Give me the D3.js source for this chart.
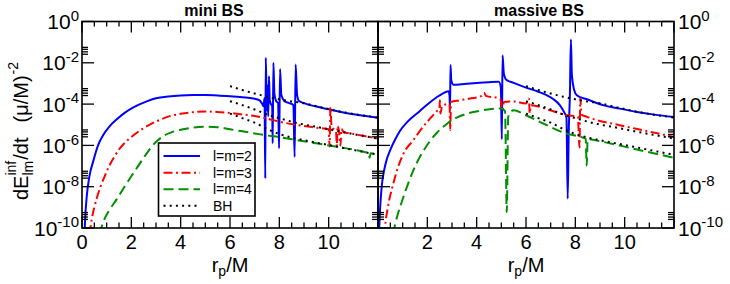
<!DOCTYPE html>
<html><head><meta charset="utf-8">
<script src="https://cdn.jsdelivr.net/npm/d3@7"></script>
<style>
body{margin:0;background:#fff}
svg{display:block}
text{font-family:"Liberation Sans",Arial,Helvetica,sans-serif;fill:#000}
</style>
</head><body>
<svg id="chart" width="730" height="284"></svg>
<script>
// ---------------- data (r_p/M , log10 dE/dt) ----------------
const panelTitles = ["mini BS", "massive BS"];
const seriesNames = ["l=m=2", "l=m=3", "l=m=4", "BH"];
const xMajorTicks = [0, 2, 4, 6, 8, 10, 12];
const xMinorTicks = [0.5, 1, 1.5, 2.5, 3, 3.5, 4.5, 5, 5.5, 6.5, 7, 7.5, 8.5, 9, 9.5, 10.5, 11, 11.5];
const xLabelsLeft = [0, 2, 4, 6, 8, 10];
const xLabelsRight = [2, 4, 6, 8, 10];
const yMajorExponents = [0, -2, -4, -6, -8, -10];
const yMinorFactors = [2.6, 3.4, 4.5, 5.6];

const mini_l2 = [[0.1,-10.3],[0.13,-9.5],[0.19,-8.5],[0.3,-7.5],[0.46,-6.75],[0.65,-6.0],[0.86,-5.5],[1.1,-5.1],[1.4,-4.75],[1.7,-4.45],[2.1,-4.15],[2.6,-3.88],[3.0,-3.72],[3.5,-3.63],[4.0,-3.58],[4.5,-3.56],[5.0,-3.56],[5.5,-3.58],[6.0,-3.62],[6.5,-3.67],[6.95,-3.73],[7.2,-3.82],[7.3,-3.98],[7.36,-4.1],[7.4,-3.7],[7.43,-7.6],[7.45,-1.75],[7.48,-3.5],[7.5,-4.3],[7.52,-3.1],[7.55,-4.6],[7.58,-2.65],[7.61,-3.8],[7.66,-4.0],[7.71,-4.1],[7.73,-5.9],[7.76,-2.0],[7.8,-3.5],[7.87,-3.85],[7.95,-3.95],[7.99,-6.14],[8.03,-2.3],[8.08,-3.55],[8.2,-3.85],[8.4,-3.95],[8.57,-4.05],[8.62,-6.56],[8.66,-2.08],[8.72,-3.55],[8.8,-3.85],[9.0,-3.95],[9.5,-4.12],[10.0,-4.25],[10.5,-4.38],[11.0,-4.49],[11.5,-4.58],[12.0,-4.66]];
const mini_l3 = [[0.31,-10.3],[0.4,-9.55],[0.5,-9.0],[0.6,-8.55],[0.75,-8.0],[0.9,-7.55],[1.1,-7.0],[1.3,-6.57],[1.55,-6.12],[1.8,-5.8],[2.1,-5.5],[2.45,-5.2],[2.8,-4.96],[3.16,-4.76],[3.6,-4.57],[4.0,-4.47],[4.5,-4.39],[5.0,-4.36],[5.5,-4.38],[6.0,-4.43],[6.5,-4.5],[7.0,-4.58],[7.4,-4.67],[8.0,-4.85],[8.5,-4.97],[9.0,-5.06],[9.5,-5.14],[10.0,-5.22],[10.04,-6.05],[10.07,-4.15],[10.12,-5.1],[10.3,-5.3],[10.33,-6.05],[10.36,-5.05],[10.42,-5.32],[10.48,-6.0],[10.52,-5.2],[10.6,-5.35],[11.0,-5.45],[11.5,-5.56],[12.0,-5.67]];
const mini_l4 = [[0.7,-10.3],[0.9,-9.6],[1.1,-9.15],[1.41,-8.6],[1.75,-7.95],[2.08,-7.35],[2.5,-6.6],[2.8,-6.1],[3.05,-5.78],[3.3,-5.55],[3.6,-5.38],[4.0,-5.24],[4.5,-5.14],[5.0,-5.1],[5.5,-5.12],[6.0,-5.22],[6.5,-5.32],[7.0,-5.42],[7.5,-5.52],[8.0,-5.6],[8.5,-5.7],[9.0,-5.8],[9.5,-5.9],[10.0,-6.0],[10.5,-6.1],[11.0,-6.2],[11.5,-6.33],[11.62,-6.38],[11.66,-6.6],[11.7,-6.38],[12.0,-6.45]];

const mass_l2 = [[0.03,-10.5],[0.08,-9.15],[0.15,-8.0],[0.25,-7.2],[0.35,-6.7],[0.49,-6.24],[0.7,-5.7],[0.89,-5.3],[1.2,-4.85],[1.7,-4.33],[2.0,-4.02],[2.38,-3.67],[2.6,-3.5],[2.86,-3.38],[2.9,-3.6],[2.92,-4.3],[2.94,-2.11],[2.97,-2.85],[3.06,-3.06],[3.3,-3.05],[3.6,-3.02],[4.0,-2.98],[4.5,-2.94],[4.9,-2.92],[4.98,-3.2],[5.02,-5.7],[5.05,-1.63],[5.1,-2.5],[5.2,-2.82],[5.5,-2.97],[6.0,-3.2],[6.5,-3.4],[6.84,-3.57],[7.1,-3.75],[7.37,-4.05],[7.55,-4.4],[7.64,-4.65],[7.69,-8.58],[7.73,-5.5],[7.78,-3.5],[7.82,-0.87],[7.86,-2.6],[7.95,-3.3],[8.06,-3.57],[8.5,-3.78],[9.12,-4.05],[9.8,-4.22],[10.5,-4.38],[11.2,-4.51],[12.0,-4.63]];
const mass_l3 = [[0.25,-10.4],[0.28,-10.0],[0.4,-9.0],[0.62,-7.85],[0.8,-7.1],[1.03,-6.4],[1.43,-5.75],[1.7,-5.3],[2.0,-4.85],[2.38,-4.35],[2.49,-4.2],[2.51,-3.81],[2.53,-4.45],[2.6,-4.1],[2.9,-3.98],[2.93,-5.27],[2.96,-3.9],[3.3,-3.82],[3.73,-3.73],[4.2,-3.6],[4.3,-3.45],[4.38,-3.6],[4.95,-3.73],[5.05,-4.3],[5.1,-3.9],[5.5,-3.87],[6.0,-3.97],[6.12,-3.73],[6.15,-4.45],[6.2,-4.05],[6.98,-4.3],[7.64,-4.54],[8.1,-4.6],[8.17,-6.1],[8.2,-3.73],[8.25,-4.5],[8.48,-4.62],[9.8,-5.02],[11.0,-5.33],[12.0,-5.6]];
const mass_l4 = [[0.6,-10.3],[0.8,-9.35],[1.03,-8.5],[1.3,-7.6],[1.57,-6.85],[1.85,-6.25],[2.1,-5.8],[2.38,-5.4],[2.8,-4.95],[3.19,-4.66],[3.6,-4.47],[4.14,-4.32],[4.6,-4.24],[5.0,-4.21],[5.15,-4.35],[5.22,-9.23],[5.28,-4.6],[5.49,-4.3],[6.0,-4.54],[6.7,-4.94],[7.64,-5.43],[8.3,-5.62],[8.42,-5.68],[8.46,-6.97],[8.5,-5.7],[9.12,-5.83],[10.5,-6.2],[11.85,-6.56],[12.0,-6.6]];

const bh_l2 = [[6,-3.13],[6.5,-3.32],[7,-3.49],[7.5,-3.64],[8,-3.77],[8.5,-3.87],[9,-3.96],[9.5,-4.1],[10,-4.24],[10.5,-4.37],[11,-4.48],[11.5,-4.57],[12,-4.65]];
const bh_l3 = [[6,-3.86],[6.5,-4.05],[7,-4.26],[7.5,-4.5],[8,-4.68],[8.5,-4.85],[9,-4.99],[9.5,-5.1],[10,-5.22],[10.5,-5.34],[11,-5.45],[11.5,-5.56],[12,-5.67]];
const bh_l4 = [[6,-4.46],[6.5,-4.68],[7,-4.9],[7.5,-5.2],[8,-5.45],[8.5,-5.62],[9,-5.75],[9.5,-5.87],[10,-5.98],[10.5,-6.1],[11,-6.22],[11.5,-6.34],[12,-6.45]];

// ---------------- styles ----------------
const styles = [
  {color:"#0000ff", dash:null},
  {color:"#ff0000", dash:"9,3.5,2,3.5"},
  {color:"#009000", dash:"10,5"},
  {color:"#000000", dash:"2,4.2"}
];

const svg = d3.select("#chart");
const yTop = 21.5, yBottom = 228;
const y = d3.scaleLog().domain([1, 1e-10]).range([yTop, yBottom]);

const panels = [
  {x0:82, x1:378, title:panelTitles[0], titleX:214, series:[mini_l2, mini_l3, mini_l4], labels:xLabelsLeft, yLabelSide:"left"},
  {x0:378, x1:674, title:panelTitles[1], titleX:539, series:[mass_l2, mass_l3, mass_l4], labels:xLabelsRight, yLabelSide:"right"}
];
const bhSeries = [bh_l2, bh_l3, bh_l4];

panels.forEach((p, i) => {
  const x = d3.scaleLinear().domain([0, 12]).range([p.x0, p.x1]);
  const g = svg.append("g");
  const clipId = "clip" + i;
  svg.append("clipPath").attr("id", clipId).append("rect")
    .attr("x", p.x0).attr("y", yTop).attr("width", p.x1 - p.x0).attr("height", yBottom - yTop);
  const line = d3.line().x(d => x(d[0])).y(d => y(Math.pow(10, d[1]))).curve(d3.curveMonotoneX);
  const lg = g.append("g").attr("clip-path", `url(#${clipId})`);
  p.series.forEach((s, k) => {
    lg.append("path").attr("d", line(s)).attr("fill", "none")
      .attr("stroke", styles[k].color).attr("stroke-width", 2)
      .attr("stroke-dasharray", styles[k].dash);
  });
  bhSeries.forEach(s => {
    lg.append("path").attr("d", line(s)).attr("fill", "none")
      .attr("stroke", styles[3].color).attr("stroke-width", 2)
      .attr("stroke-dasharray", styles[3].dash);
  });

  g.append("rect").attr("x", p.x0).attr("y", yTop).attr("width", p.x1 - p.x0).attr("height", yBottom - yTop)
    .attr("fill", "none").attr("stroke", "#000").attr("stroke-width", 1.6);

  const tk = g.append("g").attr("stroke", "#000").attr("stroke-width", 1.3);
  xMajorTicks.forEach(v => {
    tk.append("line").attr("x1", x(v)).attr("x2", x(v)).attr("y1", yBottom).attr("y2", yBottom - 11);
    tk.append("line").attr("x1", x(v)).attr("x2", x(v)).attr("y1", yTop).attr("y2", yTop + 11);
  });
  xMinorTicks.forEach(v => {
    tk.append("line").attr("x1", x(v)).attr("x2", x(v)).attr("y1", yBottom).attr("y2", yBottom - 5.5);
    tk.append("line").attr("x1", x(v)).attr("x2", x(v)).attr("y1", yTop).attr("y2", yTop + 5);
  });
  [[p.x0, 1], [p.x1, -1]].forEach(([ax, dir]) => {
    yMajorExponents.forEach(e => {
      const v = Math.pow(10, e);
      tk.append("line").attr("x1", ax).attr("x2", ax + dir * 12).attr("y1", y(v)).attr("y2", y(v));
      if (e < 0) yMinorFactors.forEach(f => {
        tk.append("line").attr("x1", ax).attr("x2", ax + dir * 6).attr("y1", y(v * f)).attr("y2", y(v * f));
      });
    });
  });

  p.labels.forEach(v => {
    g.append("text").attr("x", x(v)).attr("y", 249).attr("text-anchor", "middle")
      .attr("font-size", 20).text(v);
  });
  const xt = g.append("text").attr("x", (p.x0 + p.x1) / 2).attr("y", 271.5).attr("text-anchor", "middle").attr("font-size", 20);
  xt.append("tspan").text("r");
  xt.append("tspan").attr("font-size", 14).attr("dy", 4.5).text("p");
  xt.append("tspan").attr("dy", -4.5).text("/M");

  g.append("text").attr("x", p.titleX).attr("y", 15.5).attr("text-anchor", "middle")
    .attr("font-size", 16).attr("font-weight", "bold").text(p.title);

  yMajorExponents.forEach(e => {
    const yy = y(Math.pow(10, e)) + 7.5;
    const t = g.append("text").attr("font-size", 21).attr("y", yy);
    if (p.yLabelSide === "left") t.attr("x", p.x0 - 3).attr("text-anchor", "end");
    else t.attr("x", p.x1 + 4).attr("text-anchor", "start");
    t.append("tspan").text("10");
    t.append("tspan").attr("font-size", 15).attr("dy", -8.3).text(String(e));
  });
});

// y axis title (rotated)
const yt = svg.append("g").attr("transform", "translate(28,200) rotate(-90)");
let cx = 0;
function piece(txt, size, dy) {
  return yt.append("text").attr("x", cx).attr("y", dy).attr("font-size", size).text(txt);
}
const p1 = piece("dE", 20, 0); cx += p1.node().getComputedTextLength();
const sub = piece("lm", 14, 5); const sup = piece("inf", 14, -12);
cx += Math.max(sub.node().getComputedTextLength(), sup.node().getComputedTextLength()) + 1;
const p2 = piece("/dt", 20, 0); cx += p2.node().getComputedTextLength() + 15;
const p3 = piece("(\u03BC/M)", 20, 0); cx += p3.node().getComputedTextLength() + 1;
piece("-2", 14, -10);

// legend
const leg = svg.append("g");
leg.append("rect").attr("x", 158.5).attr("y", 143).attr("width", 96.5).attr("height", 73)
  .attr("fill", "#fff").attr("stroke", "#000").attr("stroke-width", 1.6);
const legY = [156, 172.7, 189.3, 205.7];
seriesNames.forEach((n, k) => {
  leg.append("line").attr("x1", 163.5).attr("x2", 200).attr("y1", legY[k]).attr("y2", legY[k])
    .attr("stroke", styles[k].color).attr("stroke-width", 2).attr("stroke-dasharray", styles[k].dash);
  leg.append("text").attr("x", 213).attr("y", legY[k] + 5).attr("font-size", 14).text(n);
});
</script>
</body></html>
